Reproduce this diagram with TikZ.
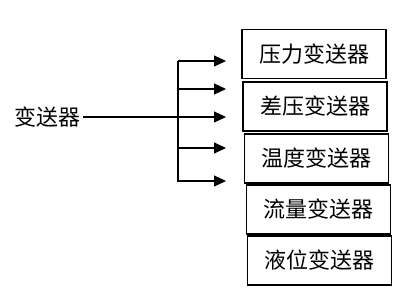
\documentclass[tikz,border=0pt]{standalone}
\usepackage{fontspec}
\setmainfont{Noto Sans CJK SC}
\usetikzlibrary{arrows.meta}
\tikzset{
	typebox/.style={draw, line width=1.6pt, minimum width=144pt, minimum height=49pt, inner sep=0pt, font=\fontsize{22}{22}\selectfont},
	branch/.style={line width=1.2pt, -{Triangle[length=12pt,width=11pt]}}
}
\begin{document}
\begin{tikzpicture}[x=1pt,y=-1pt, line join=miter]
	\useasboundingbox (0,0) rectangle (407,299);
	% left label
	\node[inner sep=2.5pt] (src) at (47.5,117) {\fontsize{22}{22}\selectfont 变送器};
	% boxes
	\node[typebox] (b1) at (314,54) {压力变送器};
	\node[typebox] (b2) at (315,106.5) {差压变送器};
	\node[typebox] (b3) at (316.5,158.5) {温度变送器};
	\node[typebox] (b4) at (318.5,209.5) {流量变送器};
	\node[typebox] (b5) at (319.5,260.5) {液位变送器};
	% bar and arrows
	\coordinate (top) at (178,61);
	\coordinate (bot) at (178,182);
	\draw[line width=1.6pt] (top) -- (bot);
	\foreach \y/\n in {61/1,89/2,148/4,181/5}
	{\coordinate (s\n) at (178,\y);
		\coordinate (t\n) at (226,\y);
		\draw[branch] (s\n) -- (t\n);}
	\coordinate (t3) at (226,117);
	\draw[branch] (src.east) -- (t3);
\end{tikzpicture}
\end{document}
